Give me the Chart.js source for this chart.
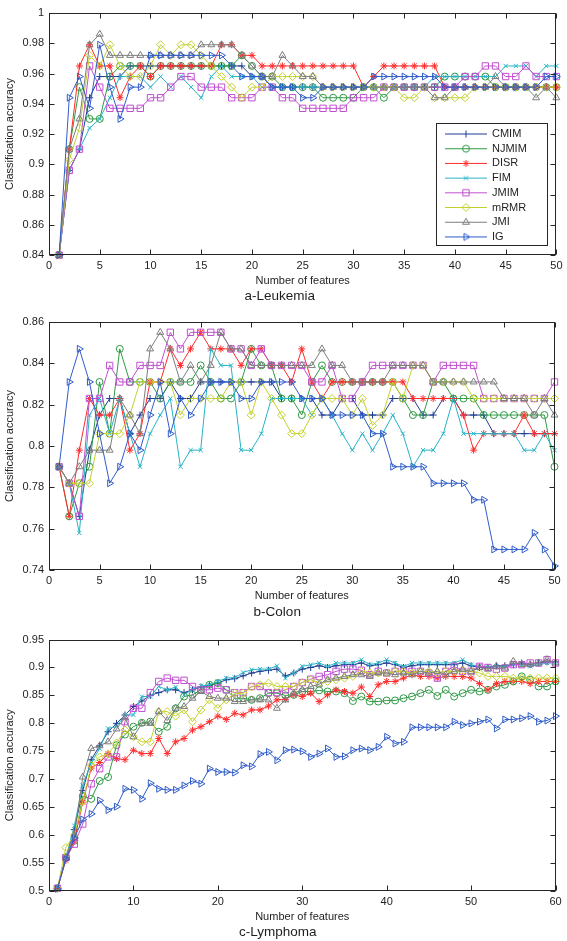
<!DOCTYPE html>
<html>
<head>
<meta charset="utf-8">
<script src="https://cdn.jsdelivr.net/npm/chart.js@4.4.1/dist/chart.umd.min.js"></script>
<style>
  html, body { margin: 0; padding: 0; background: #fff; }
  body { width: 567px; height: 941px; position: relative; overflow: hidden; }
  canvas { position: absolute; left: 0; }
</style>
</head>
<body>
<canvas id="chartA" width="567" height="306" style="top:0px"></canvas>
<canvas id="chartB" width="567" height="314" style="top:308px"></canvas>
<canvas id="chartC" width="567" height="317" style="top:624px"></canvas>
<script>
const methods = ["CMIM", "NJMIM", "DISR", "FIM", "JMIM", "mRMR", "JMI", "IG"];

const featuresAB = [1, 2, 3, 4, 5, 6, 7, 8, 9, 10, 11, 12, 13, 14, 15, 16, 17, 18, 19, 20,
  21, 22, 23, 24, 25, 26, 27, 28, 29, 30, 31, 32, 33, 34, 35, 36, 37, 38, 39, 40,
  41, 42, 43, 44, 45, 46, 47, 48, 49, 50];
const featuresC = [1, 2, 3, 4, 5, 6, 7, 8, 9, 10, 11, 12, 13, 14, 15, 16, 17, 18, 19, 20,
  21, 22, 23, 24, 25, 26, 27, 28, 29, 30, 31, 32, 33, 34, 35, 36, 37, 38, 39, 40,
  41, 42, 43, 44, 45, 46, 47, 48, 49, 50, 51, 52, 53, 54, 55, 56, 57, 58, 59, 60];

// a-Leukemia
const leuCMIM = [0.840, 0.896, 0.910, 0.944, 0.958, 0.958, 0.958, 0.965, 0.965, 0.965,
  0.965, 0.965, 0.965, 0.965, 0.965, 0.965, 0.965, 0.965, 0.965, 0.958,
  0.958, 0.951, 0.951, 0.951, 0.951, 0.951, 0.951, 0.951, 0.951, 0.951,
  0.951, 0.951, 0.951, 0.951, 0.951, 0.951, 0.951, 0.951, 0.951, 0.951,
  0.951, 0.951, 0.951, 0.951, 0.951, 0.951, 0.951, 0.951, 0.951, 0.951];
const leuNJMIM = [0.840, 0.910, 0.951, 0.930, 0.930, 0.958, 0.965, 0.965, 0.965, 0.958,
  0.965, 0.965, 0.965, 0.965, 0.965, 0.965, 0.965, 0.965, 0.972, 0.965,
  0.958, 0.958, 0.951, 0.951, 0.951, 0.951, 0.944, 0.944, 0.944, 0.944,
  0.951, 0.951, 0.944, 0.951, 0.951, 0.951, 0.951, 0.951, 0.958, 0.958,
  0.958, 0.958, 0.958, 0.951, 0.951, 0.951, 0.951, 0.951, 0.951, 0.951];
const leuDISR = [0.840, 0.910, 0.965, 0.979, 0.965, 0.965, 0.944, 0.958, 0.965, 0.958,
  0.965, 0.965, 0.965, 0.965, 0.965, 0.965, 0.979, 0.979, 0.972, 0.972,
  0.965, 0.965, 0.965, 0.965, 0.965, 0.965, 0.965, 0.965, 0.965, 0.965,
  0.951, 0.958, 0.965, 0.965, 0.965, 0.965, 0.965, 0.965, 0.951, 0.951,
  0.951, 0.951, 0.951, 0.951, 0.951, 0.951, 0.951, 0.951, 0.951, 0.951];
const leuFIM = [0.840, 0.896, 0.910, 0.924, 0.930, 0.944, 0.958, 0.958, 0.958, 0.951,
  0.958, 0.951, 0.958, 0.951, 0.944, 0.958, 0.965, 0.958, 0.958, 0.958,
  0.951, 0.951, 0.951, 0.951, 0.951, 0.951, 0.951, 0.951, 0.951, 0.951,
  0.951, 0.951, 0.951, 0.951, 0.951, 0.951, 0.951, 0.958, 0.958, 0.958,
  0.958, 0.958, 0.958, 0.958, 0.965, 0.965, 0.965, 0.958, 0.965, 0.965];
const leuJMIM = [0.840, 0.896, 0.910, 0.965, 0.951, 0.937, 0.937, 0.937, 0.937, 0.944,
  0.944, 0.951, 0.958, 0.958, 0.951, 0.951, 0.951, 0.944, 0.944, 0.944,
  0.951, 0.951, 0.944, 0.944, 0.937, 0.937, 0.937, 0.937, 0.937, 0.944,
  0.944, 0.944, 0.951, 0.951, 0.951, 0.951, 0.951, 0.951, 0.951, 0.951,
  0.958, 0.958, 0.965, 0.965, 0.958, 0.958, 0.965, 0.958, 0.958, 0.958];
const leuMRMR = [0.840, 0.903, 0.924, 0.972, 0.965, 0.979, 0.965, 0.958, 0.958, 0.965,
  0.979, 0.972, 0.979, 0.979, 0.972, 0.965, 0.958, 0.951, 0.944, 0.951,
  0.951, 0.958, 0.958, 0.958, 0.958, 0.958, 0.951, 0.951, 0.951, 0.951,
  0.951, 0.951, 0.951, 0.951, 0.944, 0.944, 0.951, 0.944, 0.944, 0.944,
  0.944, 0.951, 0.951, 0.951, 0.951, 0.951, 0.951, 0.951, 0.951, 0.951];
const leuJMI = [0.840, 0.910, 0.930, 0.979, 0.986, 0.972, 0.972, 0.972, 0.972, 0.972,
  0.972, 0.972, 0.972, 0.972, 0.979, 0.979, 0.979, 0.979, 0.972, 0.965,
  0.958, 0.958, 0.972, 0.965, 0.958, 0.958, 0.951, 0.951, 0.951, 0.951,
  0.951, 0.951, 0.951, 0.951, 0.951, 0.951, 0.951, 0.944, 0.944, 0.951,
  0.951, 0.951, 0.951, 0.958, 0.951, 0.951, 0.951, 0.944, 0.951, 0.944];
const leuIG = [0.840, 0.944, 0.958, 0.937, 0.979, 0.951, 0.930, 0.951, 0.951, 0.972,
  0.972, 0.972, 0.972, 0.972, 0.972, 0.972, 0.972, 0.965, 0.958, 0.958,
  0.958, 0.951, 0.951, 0.951, 0.944, 0.944, 0.951, 0.951, 0.951, 0.951,
  0.951, 0.958, 0.958, 0.958, 0.958, 0.958, 0.958, 0.958, 0.951, 0.951,
  0.951, 0.951, 0.951, 0.951, 0.951, 0.951, 0.951, 0.951, 0.958, 0.958];

// b-Colon
const colCMIM = [0.790, 0.782, 0.766, 0.798, 0.815, 0.823, 0.823, 0.806, 0.815, 0.823,
  0.823, 0.831, 0.823, 0.823, 0.831, 0.831, 0.831, 0.831, 0.831, 0.831,
  0.831, 0.831, 0.823, 0.823, 0.823, 0.823, 0.815, 0.815, 0.823, 0.823,
  0.815, 0.815, 0.815, 0.823, 0.823, 0.823, 0.815, 0.815, 0.823, 0.823,
  0.815, 0.815, 0.815, 0.806, 0.806, 0.806, 0.806, 0.806, 0.806, 0.806];
const colNJMIM = [0.790, 0.766, 0.782, 0.790, 0.831, 0.806, 0.847, 0.831, 0.831, 0.831,
  0.823, 0.831, 0.831, 0.831, 0.839, 0.831, 0.823, 0.823, 0.831, 0.847,
  0.839, 0.839, 0.823, 0.823, 0.815, 0.831, 0.839, 0.831, 0.831, 0.831,
  0.831, 0.831, 0.831, 0.831, 0.823, 0.815, 0.815, 0.831, 0.831, 0.823,
  0.823, 0.823, 0.815, 0.815, 0.815, 0.815, 0.815, 0.815, 0.815, 0.790];
const colDISR = [0.790, 0.766, 0.798, 0.823, 0.815, 0.815, 0.823, 0.798, 0.806, 0.831,
  0.831, 0.847, 0.839, 0.847, 0.855, 0.847, 0.847, 0.847, 0.839, 0.847,
  0.847, 0.839, 0.839, 0.831, 0.847, 0.831, 0.823, 0.831, 0.831, 0.831,
  0.831, 0.831, 0.831, 0.831, 0.831, 0.823, 0.823, 0.823, 0.823, 0.823,
  0.815, 0.798, 0.806, 0.806, 0.806, 0.806, 0.815, 0.806, 0.806, 0.806];
const colFIM = [0.790, 0.782, 0.758, 0.815, 0.823, 0.806, 0.823, 0.806, 0.790, 0.806,
  0.815, 0.823, 0.790, 0.798, 0.798, 0.847, 0.839, 0.839, 0.798, 0.798,
  0.806, 0.823, 0.823, 0.823, 0.823, 0.815, 0.823, 0.815, 0.806, 0.798,
  0.806, 0.798, 0.806, 0.815, 0.806, 0.790, 0.798, 0.798, 0.806, 0.823,
  0.806, 0.806, 0.806, 0.806, 0.806, 0.806, 0.798, 0.798, 0.806, 0.798];
const colJMIM = [0.790, 0.782, 0.766, 0.823, 0.823, 0.839, 0.831, 0.831, 0.839, 0.839,
  0.839, 0.855, 0.847, 0.855, 0.855, 0.855, 0.855, 0.847, 0.847, 0.839,
  0.847, 0.839, 0.839, 0.839, 0.839, 0.831, 0.831, 0.839, 0.823, 0.823,
  0.831, 0.839, 0.839, 0.839, 0.839, 0.839, 0.839, 0.831, 0.839, 0.839,
  0.839, 0.839, 0.823, 0.823, 0.823, 0.823, 0.823, 0.823, 0.823, 0.831];
const colMRMR = [0.790, 0.782, 0.782, 0.782, 0.806, 0.806, 0.806, 0.815, 0.831, 0.831,
  0.831, 0.831, 0.815, 0.823, 0.823, 0.823, 0.823, 0.831, 0.831, 0.815,
  0.831, 0.823, 0.815, 0.806, 0.806, 0.815, 0.823, 0.823, 0.823, 0.815,
  0.823, 0.810, 0.815, 0.831, 0.823, 0.839, 0.839, 0.831, 0.831, 0.831,
  0.831, 0.823, 0.823, 0.823, 0.823, 0.823, 0.823, 0.823, 0.823, 0.823];
const colJMI = [0.790, 0.782, 0.790, 0.798, 0.798, 0.798, 0.823, 0.815, 0.806, 0.847,
  0.855, 0.847, 0.831, 0.839, 0.831, 0.839, 0.855, 0.847, 0.847, 0.839,
  0.839, 0.839, 0.839, 0.839, 0.839, 0.839, 0.847, 0.839, 0.839, 0.831,
  0.831, 0.831, 0.831, 0.839, 0.839, 0.839, 0.839, 0.831, 0.831, 0.831,
  0.831, 0.831, 0.831, 0.831, 0.823, 0.823, 0.823, 0.815, 0.823, 0.815];
const colIG = [0.790, 0.831, 0.847, 0.831, 0.806, 0.782, 0.790, 0.806, 0.798, 0.815,
  0.831, 0.806, 0.823, 0.815, 0.823, 0.831, 0.831, 0.831, 0.823, 0.823,
  0.831, 0.831, 0.831, 0.831, 0.823, 0.823, 0.823, 0.815, 0.815, 0.815,
  0.815, 0.806, 0.806, 0.790, 0.790, 0.790, 0.790, 0.782, 0.782, 0.782,
  0.782, 0.774, 0.774, 0.750, 0.750, 0.750, 0.750, 0.758, 0.750, 0.742];

// c-Lymphoma
const lymCMIM = [0.505, 0.560, 0.610, 0.680, 0.735, 0.760, 0.785, 0.800, 0.815, 0.830,
  0.840, 0.850, 0.855, 0.860, 0.860, 0.855, 0.860, 0.865, 0.868, 0.872,
  0.878, 0.880, 0.885, 0.890, 0.893, 0.895, 0.897, 0.885, 0.890, 0.897,
  0.900, 0.903, 0.900, 0.903, 0.905, 0.905, 0.908, 0.903, 0.905, 0.908,
  0.905, 0.900, 0.903, 0.905, 0.905, 0.905, 0.905, 0.905, 0.908, 0.903,
  0.900, 0.900, 0.903, 0.903, 0.905, 0.908, 0.905, 0.908, 0.910, 0.910];
const lymNJMIM = [0.505, 0.560, 0.590, 0.670, 0.665, 0.697, 0.704, 0.761, 0.780, 0.794,
  0.801, 0.803, 0.785, 0.794, 0.827, 0.848, 0.851, 0.860, 0.869, 0.872,
  0.860, 0.845, 0.845, 0.842, 0.845, 0.854, 0.854, 0.850, 0.851, 0.857,
  0.857, 0.859, 0.857, 0.857, 0.854, 0.840, 0.848, 0.839, 0.839, 0.841,
  0.841, 0.845, 0.848, 0.854, 0.860, 0.849, 0.860, 0.848, 0.854, 0.860,
  0.857, 0.860, 0.866, 0.869, 0.875, 0.884, 0.878, 0.866, 0.866, 0.875];
const lymDISR = [0.505, 0.555, 0.590, 0.659, 0.720, 0.730, 0.746, 0.737, 0.735, 0.752,
  0.746, 0.746, 0.773, 0.746, 0.767, 0.773, 0.788, 0.794, 0.803, 0.813,
  0.807, 0.818, 0.815, 0.824, 0.824, 0.831, 0.842, 0.843, 0.851, 0.848,
  0.854, 0.839, 0.851, 0.860, 0.857, 0.854, 0.865, 0.848, 0.869, 0.875,
  0.875, 0.881, 0.887, 0.884, 0.884, 0.881, 0.884, 0.884, 0.884, 0.881,
  0.871, 0.860, 0.871, 0.875, 0.875, 0.875, 0.871, 0.875, 0.875, 0.875];
const lymFIM = [0.505, 0.560, 0.617, 0.689, 0.730, 0.755, 0.791, 0.794, 0.815, 0.815,
  0.848, 0.848, 0.866, 0.860, 0.865, 0.851, 0.861, 0.867, 0.869, 0.875,
  0.881, 0.882, 0.891, 0.896, 0.897, 0.897, 0.903, 0.881, 0.890, 0.902,
  0.905, 0.908, 0.902, 0.908, 0.908, 0.908, 0.914, 0.905, 0.908, 0.914,
  0.908, 0.902, 0.908, 0.908, 0.908, 0.908, 0.908, 0.908, 0.914, 0.905,
  0.902, 0.902, 0.902, 0.902, 0.905, 0.905, 0.902, 0.905, 0.908, 0.908];
const lymJMIM = [0.505, 0.560, 0.584, 0.620, 0.692, 0.719, 0.740, 0.740, 0.803, 0.827,
  0.827, 0.855, 0.875, 0.881, 0.877, 0.877, 0.866, 0.860, 0.860, 0.863,
  0.860, 0.855, 0.855, 0.866, 0.866, 0.855, 0.855, 0.860, 0.866, 0.873,
  0.879, 0.884, 0.887, 0.893, 0.897, 0.897, 0.895, 0.887, 0.893, 0.890,
  0.893, 0.893, 0.893, 0.893, 0.890, 0.881, 0.893, 0.902, 0.893, 0.893,
  0.902, 0.900, 0.897, 0.899, 0.905, 0.905, 0.908, 0.908, 0.914, 0.908];
const lymMRMR = [0.505, 0.578, 0.600, 0.660, 0.725, 0.740, 0.745, 0.765, 0.788, 0.776,
  0.767, 0.767, 0.821, 0.821, 0.813, 0.824, 0.803, 0.824, 0.842, 0.827,
  0.842, 0.854, 0.854, 0.865, 0.869, 0.872, 0.866, 0.866, 0.866, 0.873,
  0.878, 0.872, 0.875, 0.878, 0.881, 0.884, 0.893, 0.890, 0.890, 0.890,
  0.893, 0.893, 0.890, 0.893, 0.893, 0.890, 0.893, 0.893, 0.893, 0.893,
  0.890, 0.884, 0.884, 0.884, 0.881, 0.881, 0.881, 0.881, 0.881, 0.881];
const lymJMI = [0.505, 0.560, 0.600, 0.704, 0.755, 0.760, 0.767, 0.790, 0.810, 0.776,
  0.800, 0.800, 0.821, 0.805, 0.827, 0.830, 0.845, 0.857, 0.848, 0.845,
  0.845, 0.839, 0.839, 0.842, 0.842, 0.842, 0.827, 0.842, 0.854, 0.860,
  0.866, 0.870, 0.878, 0.881, 0.884, 0.887, 0.887, 0.884, 0.890, 0.890,
  0.887, 0.890, 0.887, 0.893, 0.890, 0.893, 0.887, 0.893, 0.896, 0.893,
  0.900, 0.897, 0.902, 0.899, 0.911, 0.905, 0.905, 0.908, 0.914, 0.908];
const lymIG = [0.504, 0.557, 0.595, 0.628, 0.638, 0.662, 0.645, 0.651, 0.683, 0.681,
  0.665, 0.693, 0.683, 0.681, 0.681, 0.689, 0.697, 0.692, 0.719, 0.713,
  0.713, 0.712, 0.725, 0.723, 0.745, 0.749, 0.734, 0.752, 0.753, 0.750,
  0.740, 0.746, 0.755, 0.740, 0.741, 0.752, 0.755, 0.752, 0.758, 0.776,
  0.764, 0.767, 0.793, 0.793, 0.793, 0.793, 0.793, 0.803, 0.797, 0.800,
  0.803, 0.807, 0.791, 0.807, 0.807, 0.809, 0.813, 0.803, 0.805, 0.813];

const FONT = "'Liberation Sans', Arial, Helvetica, sans-serif";
const INK = "#1e1e1e";

const colors = {
  CMIM: "#1f3d92", NJMIM: "#2f9a45", DISR: "#ff2b2b", FIM: "#27b3c6",
  JMIM: "#c24fd2", mRMR: "#c3d12f", JMI: "#7d7d7d", IG: "#2f5cc9"
};
const markers = {
  CMIM: { style: "cross", rot: 0, r: 3.5 },
  NJMIM: { style: "circle", rot: 0, r: 3.5 },
  DISR: { style: "star", rot: 0, r: 3.5 },
  FIM: { style: "crossRot", rot: 0, r: 3 },
  JMIM: { style: "rect", rot: 0, r: 4.5 },
  mRMR: { style: "rectRot", rot: 0, r: 4 },
  JMI: { style: "triangle", rot: 0, r: 4 },
  IG: { style: "triangle", rot: 90, r: 4 }
};

function buildSets(xs, series) {
  return methods.map((m, i) => ({
    label: m,
    data: series[i].map((v, k) => ({ x: xs[k], y: v })),
    borderColor: colors[m],
    backgroundColor: colors[m],
    pointBorderColor: colors[m],
    pointBackgroundColor: "rgba(0,0,0,0)",
    pointStyle: markers[m].style,
    pointRotation: markers[m].rot,
    pointRadius: markers[m].r,
    pointHoverRadius: markers[m].r,
    pointBorderWidth: 1,
    borderWidth: 1,
    fill: false,
    tension: 0,
    clip: false,
    order: methods.length - i
  }));
}

// legend icons: short line with the marker in the middle
const icons = methods.map((m) => {
  const c = document.createElement("canvas");
  c.width = 42; c.height = 11;
  const g = c.getContext("2d");
  g.strokeStyle = colors[m];
  g.lineWidth = 1;
  g.beginPath(); g.moveTo(0, 5.5); g.lineTo(42, 5.5); g.stroke();
  g.fillStyle = "rgba(0,0,0,0)";
  if (Chart.helpers && Chart.helpers.drawPoint) {
    Chart.helpers.drawPoint(g, { pointStyle: markers[m].style, rotation: markers[m].rot, radius: markers[m].r, borderWidth: 1 }, 21, 5.5);
  } else {
    g.beginPath(); g.arc(21, 5.5, 3.5, 0, Math.PI * 2); g.stroke();
  }
  return c;
});

// tick text like 1, 0.98, 0.8, 0.5
const tickText = (v) => String(Number(Number(v).toFixed(3)));

// box round the plot with inward tick marks
const framePlugin = {
  id: "frame",
  afterDatasetsDraw(chart) {
    const { ctx, chartArea: a, scales } = chart;
    const L = Math.round(a.left) + 0.5, R = Math.round(a.right) - 0.5;
    const T = Math.round(a.top) + 0.5, B = Math.round(a.bottom) - 0.5;
    ctx.save();
    ctx.strokeStyle = "#262626";
    ctx.lineWidth = 1;
    ctx.strokeRect(L, T, R - L, B - T);
    ctx.beginPath();
    scales.x.ticks.forEach((t) => {
      const px = Math.round(scales.x.getPixelForValue(t.value)) + 0.5;
      ctx.moveTo(px, B); ctx.lineTo(px, B - 5);
      ctx.moveTo(px, T); ctx.lineTo(px, T + 5);
    });
    scales.y.ticks.forEach((t) => {
      const py = Math.round(scales.y.getPixelForValue(t.value)) + 0.5;
      ctx.moveTo(L, py); ctx.lineTo(L + 5, py);
      ctx.moveTo(R, py); ctx.lineTo(R - 5, py);
    });
    ctx.stroke();
    ctx.restore();
  }
};

// move the legend to the lower right of panel a and draw its box
const legendPlacePlugin = {
  id: "legendPlace",
  afterLayout(chart) {
    const lg = chart.legend;
    if (!lg) return;
    lg.left = 441.8; lg.top = 124.8; lg.right = 548; lg.bottom = 300;
  },
  afterDraw(chart) {
    const ctx = chart.ctx;
    ctx.save();
    ctx.strokeStyle = "#262626";
    ctx.lineWidth = 1;
    ctx.strokeRect(436.5, 123.5, 111, 122);
    ctx.restore();
  }
};

function makeChart(id, xs, series, opt) {
  return new Chart(document.getElementById(id), {
    type: "line",
    data: { datasets: buildSets(xs, series) },
    options: {
      responsive: false,
      animation: false,
      devicePixelRatio: 1,
      layout: { padding: opt.padding },
      plugins: {
        legend: opt.legend || { display: false },
        title: {
          display: true,
          text: opt.title,
          position: "bottom",
          color: INK,
          font: { family: FONT, size: 13.5, weight: "normal", lineHeight: 1.2 },
          padding: { top: opt.titlePad, bottom: 0 }
        },
        tooltip: { enabled: false }
      },
      scales: {
        x: {
          type: "linear",
          min: 0,
          max: opt.xMax,
          grid: { display: false, drawTicks: false },
          border: { display: false },
          ticks: { stepSize: opt.xStep, padding: 4.5, maxRotation: 0, autoSkip: false, color: INK, font: { family: FONT, size: 11 } },
          title: { display: true, text: "Number of features", color: INK, font: { family: FONT, size: 11 }, padding: { top: 0, bottom: 0 } },
          afterFit: (s) => { s.height = 32; }
        },
        y: {
          type: "linear",
          min: opt.yMin,
          max: opt.yMax,
          grid: { display: false, drawTicks: false },
          border: { display: false },
          ticks: { stepSize: opt.yStep, padding: 5, color: INK, font: { family: FONT, size: 11 }, callback: tickText },
          title: { display: true, text: "Classification accuracy", color: INK, font: { family: FONT, size: 11 }, padding: { top: 3.5, bottom: 0 } },
          afterFit: (s) => { s.width = 49; }
        }
      }
    },
    plugins: opt.plugins
  });
}

makeChart("chartA", featuresAB,
  [leuCMIM, leuNJMIM, leuDISR, leuFIM, leuJMIM, leuMRMR, leuJMI, leuIG], {
    title: "a-Leukemia",
    padding: { top: 13, right: 7.5, bottom: 1.6, left: 0 },
    titlePad: 1.1,
    xMax: 50, xStep: 5,
    yMin: 0.84, yMax: 1, yStep: 0.02,
    legend: {
      display: true,
      position: "chartArea",
      align: "start",
      labels: {
        usePointStyle: true,
        pointStyleWidth: 41,
        padding: 3.7,
        color: INK,
        font: { family: FONT, size: 11 },
        sort: (a, b) => a.datasetIndex - b.datasetIndex,
        generateLabels(chart) {
          const items = Chart.defaults.plugins.legend.labels.generateLabels(chart);
          items.forEach((it) => { it.pointStyle = icons[it.datasetIndex]; it.rotation = 0; });
          return items;
        }
      }
    },
    plugins: [framePlugin, legendPlacePlugin]
  });

makeChart("chartB", featuresAB,
  [colCMIM, colNJMIM, colDISR, colFIM, colJMIM, colMRMR, colJMI, colIG], {
    title: "b-Colon",
    padding: { top: 14, right: 12.5, bottom: 1.9, left: 0 },
    titlePad: 1.8,
    xMax: 50, xStep: 5,
    yMin: 0.74, yMax: 0.86, yStep: 0.02,
    plugins: [framePlugin]
  });

makeChart("chartC", featuresC,
  [lymCMIM, lymNJMIM, lymDISR, lymFIM, lymJMIM, lymMRMR, lymJMI, lymIG], {
    title: "c-Lymphoma",
    padding: { top: 15.5, right: 11.5, bottom: 0.9, left: 0 },
    titlePad: 0.8,
    xMax: 60, xStep: 10,
    yMin: 0.5, yMax: 0.95, yStep: 0.05,
    plugins: [framePlugin]
  });
</script>
</body>
</html>
